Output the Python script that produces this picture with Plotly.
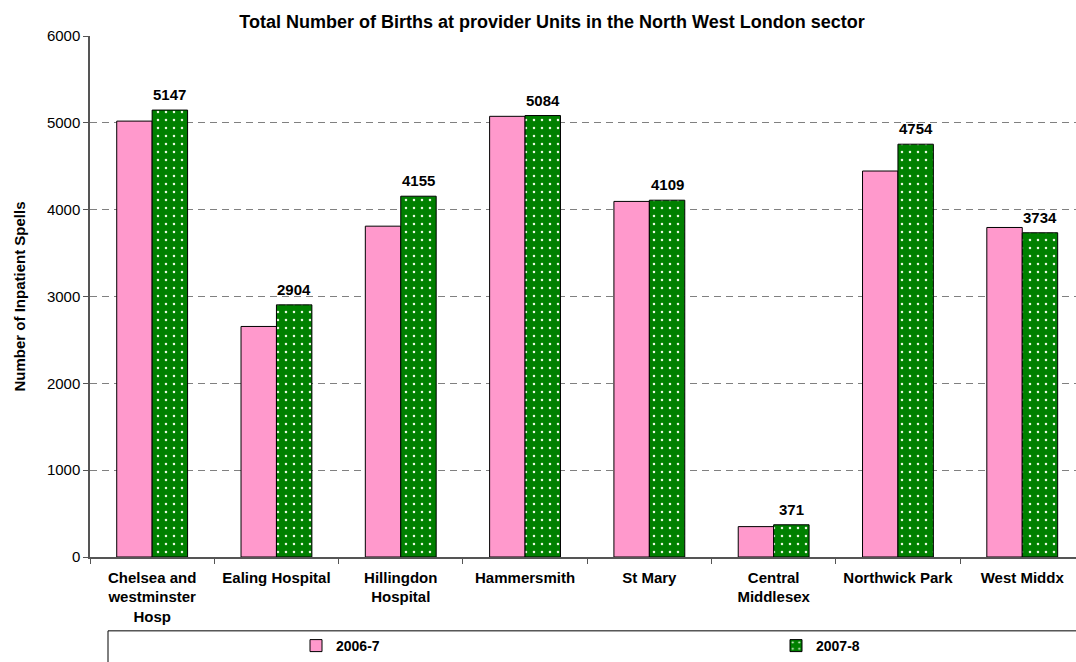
import plotly.graph_objects as go

categories = ["Chelsea and<br>westminster<br>Hosp", "Ealing Hospital", "Hillingdon<br>Hospital",
              "Hammersmith", "St Mary", "Central<br>Middlesex", "Northwick Park", "West Middx"]
series_names = ["2006-7", "2007-8"]
values_2006_7 = [5020, 2655, 3810, 5075, 4095, 350, 4445, 3795]
values_2007_8 = [5147, 2904, 4155, 5084, 4109, 371, 4754, 3734]
y_ticks = [0, 1000, 2000, 3000, 4000, 5000, 6000]

FONT = "Arial, Liberation Sans, sans-serif"

fig = go.Figure()
fig.add_trace(go.Bar(
    name=series_names[0], x=categories, y=values_2006_7, legend="legend",
    marker=dict(color="#FF99CC", line=dict(color="#000000", width=1)),
))
fig.add_trace(go.Bar(
    name=series_names[1], x=categories, y=values_2007_8, legend="legend2",
    marker=dict(color="#008000", line=dict(color="#000000", width=1),
                pattern=dict(shape=".", fgcolor="#E8F8E0", bgcolor="#008000",
                             size=8, solidity=0.08, fillmode="replace")),
))

# data labels for the 2007-8 series, placed at each bar's value
for cat, val in zip(categories, values_2007_8):
    fig.add_annotation(x=cat, y=val, xref="x", yref="y", text=f"<b>{val}</b>",
                       showarrow=False, yanchor="bottom", xanchor="center", yshift=5,
                       xshift=(0.57 / 4) * 124.3,
                       font=dict(family=FONT, size=15, color="#000000"))

legend_common = dict(orientation="h", xanchor="left", yanchor="middle", y=-(647-558)/522,
                     font=dict(family=FONT, size=14, color="#000000", weight="bold"),
                     bgcolor="rgba(0,0,0,0)", borderwidth=0)

fig.update_layout(
    width=1076, height=662,
    margin=dict(l=90, r=0, t=36, b=104),
    paper_bgcolor="white", plot_bgcolor="white",
    barmode="group", bargap=0.43, bargroupgap=0,
    font=dict(family=FONT, size=15, color="#000000"),
    title=dict(text="<b>Total Number of Births at provider Units in the North West London sector</b>",
               x=552/1076, xanchor="center", y=1 - 22/662, yanchor="middle",
               yref="container", font=dict(family=FONT, size=18, color="#000000")),
    showlegend=True,
    legend=dict(x=(296-90)/986, **legend_common),
    legend2=dict(x=(776-90)/986, **legend_common),
    shapes=[dict(type="rect", xref="paper", yref="paper",
                 x0=(108-90)/986, x1=1.2, y0=-(632-558)/522, y1=-0.3,
                 line=dict(color="#000000", width=1), fillcolor="rgba(0,0,0,0)")],
)

fig.update_xaxes(
    range=[-0.5, -0.5 + 986/124.3],
    showline=True, linecolor="#555555", linewidth=1.5,
    ticks="outside", ticklen=5, tickcolor="#555555", tickson="boundaries",
    tickfont=dict(family=FONT, size=15, color="#000000"), ticklabelstandoff=6,
    showgrid=False,
)
fig.update_xaxes(ticktext=["<b>" + c + "</b>" for c in categories], tickvals=categories)

fig.update_yaxes(
    range=[0, 6000], tickvals=y_ticks,
    showline=True, linecolor="#555555", linewidth=1.5,
    ticks="outside", ticklen=5, tickcolor="#555555",
    tickfont=dict(family=FONT, size=15, color="#000000"),
    showgrid=True, gridcolor="#808080", gridwidth=1, griddash="7px,5px",
    zeroline=False,
    title=dict(text="<b>Number of Inpatient Spells</b>", font=dict(family=FONT, size=15, color="#000000"),
               standoff=18),
)

fig.write_html("out.html")
